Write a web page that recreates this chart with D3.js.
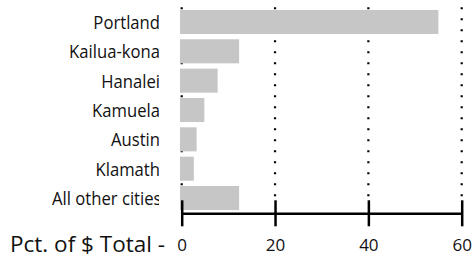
<!DOCTYPE html>
<html>
<head>
<meta charset="utf-8">
<script src="https://cdn.jsdelivr.net/npm/d3@7"></script>
<style>
  body { margin: 0; background: #fff; }
  svg { display: block; font-family: "Open Sans", sans-serif; }
</style>
</head>
<body>
<svg id="chart" width="476" height="257"></svg>
<script>
// data
const cities = ["Portland", "Kailua-kona", "Hanalei", "Kamuela", "Austin", "Klamath", "All other cities"];
const pctTotal = [55.0, 12.3, 7.7, 4.85, 3.2, 2.6, 12.3];
const tickValues = [0, 20, 40, 60];
const axisTitle = "Pct. of $ Total -";

const svg = d3.select("#chart");

const x = d3.scaleLinear().domain([0, 60]).range([181.7, 461.7]);
const y = d3.scaleBand().domain(cities).range([7.3, 212.7])
    .paddingInner(0.18).paddingOuter(0.09);

// dotted gridlines sit behind the bars
svg.append("g").selectAll("line")
    .data(tickValues)
    .join("line")
    .attr("x1", d => x(d)).attr("x2", d => x(d))
    .attr("y1", 7.3).attr("y2", 198)
    .attr("stroke", "#000")
    .attr("stroke-width", 2.2)
    .attr("stroke-dasharray", "2 9");

// bars
svg.append("g").selectAll("rect")
    .data(cities)
    .join("rect")
    .attr("x", x(0) - 1.7)
    .attr("y", d => y(d))
    .attr("width", (d, i) => x(pctTotal[i]) - x(0) + 1.7)
    .attr("height", y.bandwidth())
    .attr("fill", "#c6c6c6");

// city labels, clipped to their column
const colLeft = 52, colRight = 159;
const fitWidth = 100;   // wider than this and the label gets left-aligned + cut
const squeeze = 0.9;    // the labels are drawn a bit narrow
svg.append("clipPath").attr("id", "labelClip")
    .append("rect")
    .attr("x", colLeft).attr("y", 0)
    .attr("width", colRight - colLeft).attr("height", 257);

const labels = svg.append("g").attr("clip-path", "url(#labelClip)")
    .selectAll("text")
    .data(cities)
    .join("text")
    .attr("y", d => y(d) + y.bandwidth() / 2 + 7)
    .attr("font-size", 18.5)
    .attr("fill", "#111")
    .text(d => d);

labels.each(function () {
    const t = d3.select(this);
    const w = this.getComputedTextLength() * squeeze;
    t.attr("textLength", w).attr("lengthAdjust", "spacingAndGlyphs");
    if (w > fitWidth) {
        t.attr("x", colLeft).attr("text-anchor", "start");
    } else {
        t.attr("x", colRight + 1).attr("text-anchor", "end");
    }
});

// x axis with ticks crossing the line
const axisY = 213.3;
const xAxis = d3.axisBottom(x).tickValues(tickValues).tickSize(13).tickSizeOuter(0);
const gx = svg.append("g")
    .attr("transform", `translate(0,${axisY})`)
    .call(xAxis);

gx.select(".domain")
    .attr("stroke", "#000")
    .attr("stroke-width", 2.5);
gx.selectAll(".tick line")
    .attr("y1", -13).attr("y2", 13)
    .attr("stroke", "#000")
    .attr("stroke-width", 2.5);
gx.selectAll(".tick text")
    .attr("y", 37.7).attr("dy", null)
    .attr("font-family", "Open Sans")
    .attr("font-size", 17)
    .attr("fill", "#111");

svg.append("text")
    .attr("x", 165).attr("y", 251.5)
    .attr("text-anchor", "end")
    .attr("font-size", 22.5)
    .attr("fill", "#111")
    .text(axisTitle);
</script>
</body>
</html>
